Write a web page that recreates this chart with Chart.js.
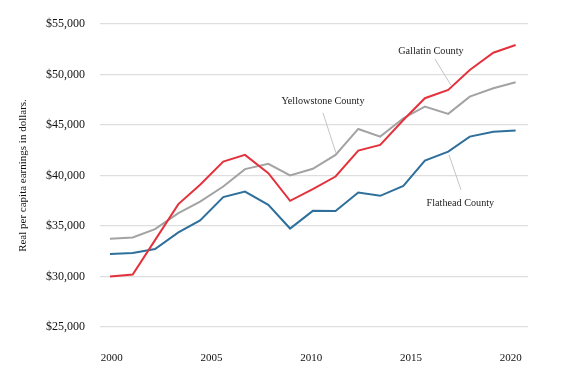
<!DOCTYPE html>
<html>
<head>
<meta charset="utf-8">
<script src="https://cdn.jsdelivr.net/npm/chart.js@4"></script>
<style>
  html, body { margin: 0; padding: 0; background: #fff; }
  #wrap { width: 570px; height: 381px; }
</style>
</head>
<body>
<div id="wrap"><canvas id="c" width="570" height="381"></canvas></div>
<script>
// Sample positions (years)
const years = [1999.91, 2001.05, 2002.17, 2003.34, 2004.43, 2005.59, 2006.68, 2007.85, 2008.94, 2010.08,
               2011.22, 2012.36, 2013.46, 2014.62, 2015.70, 2016.87, 2017.95, 2019.13, 2020.25];
const gallatin = [30000, 30200, 33600, 37170, 39080, 41380, 42040, 40230, 37490, 38650,
                  39900, 42470, 43030, 45500, 47650, 48470, 50450, 52160, 52920];
const yellowstone = [33730, 33860, 34690, 36280, 37420, 38910, 40630, 41150, 40000, 40660,
                     42040, 44610, 43850, 45670, 46820, 46100, 47810, 48640, 49230];
const flathead = [32220, 32320, 32720, 34360, 35550, 37860, 38410, 37100, 34750, 36500,
                  36480, 38310, 37990, 38980, 41480, 42370, 43850, 44320, 44450];
const xTicks = [2000, 2005, 2010, 2015, 2020];
const yTicks = [25000, 30000, 35000, 40000, 45000, 50000, 55000];

const seriesNames = ['Gallatin County', 'Yellowstone County', 'Flathead County'];
const seriesColors = ['#e3323b', '#a3a3a3', '#2e6f9c'];

// Annotation labels (anchored in data units)
const labels = [
  { text: 'Gallatin County',    x: 2016.0,  y: 52330, line: [2016.2, 51540, 2017.0, 48970] },
  { text: 'Yellowstone County', x: 2010.59, y: 47380, line: [2010.59, 46200, 2011.24, 42240] },
  { text: 'Flathead County',    x: 2017.48, y: 37295, line: [2016.91, 42040, 2017.51, 38580] }
];

const SERIF = '"Liberation Serif", "DejaVu Serif", serif';

function pts(vals) { return vals.map((v, i) => ({ x: years[i], y: v })); }

const annotate = {
  id: 'annotate',
  afterDatasetsDraw(chart) {
    const { ctx, scales: { x, y } } = chart;
    ctx.save();
    labels.forEach(l => {
      ctx.strokeStyle = '#c4c4c4';
      ctx.lineWidth = 1;
      ctx.beginPath();
      ctx.moveTo(x.getPixelForValue(l.line[0]), y.getPixelForValue(l.line[1]));
      ctx.lineTo(x.getPixelForValue(l.line[2]), y.getPixelForValue(l.line[3]));
      ctx.stroke();
      ctx.fillStyle = '#1a1a1a';
      ctx.font = '10.2px ' + SERIF;
      ctx.textAlign = 'center';
      ctx.textBaseline = 'middle';
      ctx.fillText(l.text, x.getPixelForValue(l.x), y.getPixelForValue(l.y));
    });
    ctx.restore();
  }
};

new Chart(document.getElementById('c'), {
  type: 'line',
  data: {
    datasets: [
      { label: seriesNames[0], data: pts(gallatin) },
      { label: seriesNames[1], data: pts(yellowstone) },
      { label: seriesNames[2], data: pts(flathead) }
    ].map((d, i) => Object.assign(d, {
      borderColor: seriesColors[i],
      backgroundColor: seriesColors[i],
      borderWidth: 2,
      pointRadius: 0,
      tension: 0,
      fill: false
    }))
  },
  options: {
    responsive: false,
    animation: false,
    devicePixelRatio: 1,
    layout: { padding: { top: 24, right: 42, left: 0, bottom: 0 } },
    plugins: { legend: { display: false }, tooltip: { enabled: false } },
    scales: {
      x: {
        type: 'linear',
        min: 1999.41,
        max: 2020.87,
        grid: { display: false },
        border: { display: false },
        afterBuildTicks: s => { s.ticks = xTicks.map(v => ({ value: v })); },
        afterFit: s => { s.height = 54; },
        ticks: {
          padding: 17,
          color: '#111',
          font: { family: SERIF, size: 11 },
          callback: v => String(v)
        }
      },
      y: {
        min: 25000,
        max: 55000,
        afterBuildTicks: s => { s.ticks = yTicks.map(v => ({ value: v })); },
        afterFit: s => { s.width = 100; },
        grid: { color: '#dedede', lineWidth: 1.3, drawTicks: false },
        border: { display: false },
        ticks: {
          padding: 15,
          color: '#111',
          font: { family: SERIF, size: 12 },
          callback: v => '$' + v.toLocaleString('en-US')
        },
        title: {
          display: true,
          text: 'Real per capita earnings in dollars.',
          color: '#111',
          font: { family: SERIF, size: 11 },
          padding: { top: 17, bottom: 0 }
        }
      }
    }
  },
  plugins: [annotate]
});
</script>
</body>
</html>
